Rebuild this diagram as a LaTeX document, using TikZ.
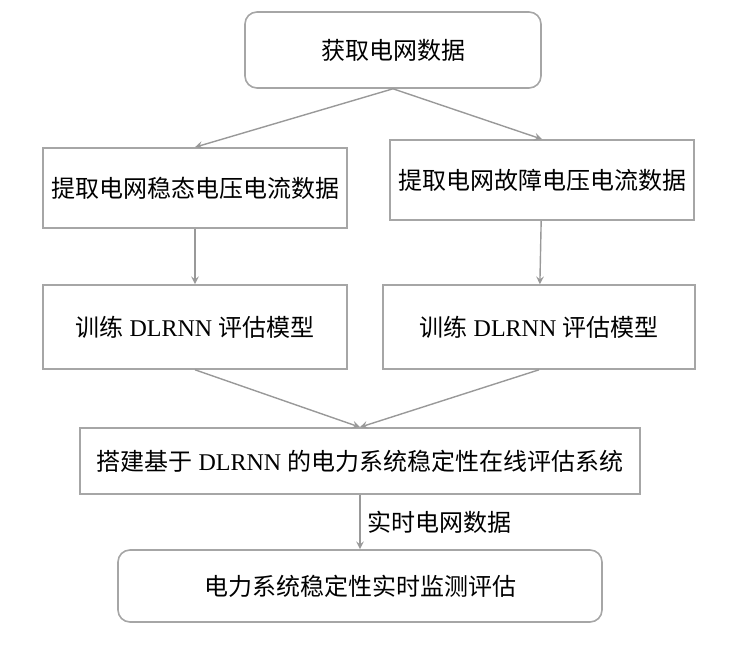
\documentclass[tikz,border=0pt]{standalone}
\usepackage{fontspec}
\setmainfont{Liberation Serif}
\newfontfamily\cjk{Noto Sans CJK SC}
\tikzset{
  box/.style={draw=gray!70, line width=0.8pt, align=center, font=\fontsize{12}{14}\selectfont},
  rbox/.style={box, rounded corners=6pt},
  arr/.style={draw=gray!80, line width=0.7pt, -stealth}
}
\begin{document}
\begin{tikzpicture}[x=0.5pt,y=-0.5pt]
  \useasboundingbox (0,0) rectangle (755,646);
  % boxes
  \node[rbox, minimum width=148pt, minimum height=38pt] (get) at (393,50) {\cjk 获取电网数据};
  \node[box, minimum width=152pt, minimum height=40pt] (steady) at (195,188) {\cjk 提取电网稳态电压电流数据};
  \node[box, minimum width=152pt, minimum height=40pt] (fault) at (542,180) {\cjk 提取电网故障电压电流数据};
  \node[box, minimum width=152pt, minimum height=42pt] (trainl) at (195,327) {{\cjk 训练} DLRNN {\cjk 评估模型}};
  \node[box, minimum width=156pt, minimum height=42pt] (trainr) at (539,327) {{\cjk 训练} DLRNN {\cjk 评估模型}};
  \node[box, minimum width=280pt, minimum height=33pt] (build) at (360,461) {{\cjk 搭建基于} DLRNN {\cjk 的电力系统稳定性在线评估系统}};
  \node[rbox, minimum width=242pt, minimum height=36pt] (monitor) at (360,586) {\cjk 电力系统稳定性实时监测评估};
  % arrows
  \draw[arr] (get.south) -- (steady.north);
  \draw[arr] (get.south) -- (fault.north);
  \draw[arr] (steady) -- (trainl);
  \draw[arr] (fault) -- (trainr);
  \draw[arr] (trainl.south) -- (build.north);
  \draw[arr] (trainr.south) -- (build.north);
  \draw[arr] (build) -- node[right, font=\fontsize{12}{14}\selectfont] {\cjk 实时电网数据} (monitor);
\end{tikzpicture}
\end{document}
